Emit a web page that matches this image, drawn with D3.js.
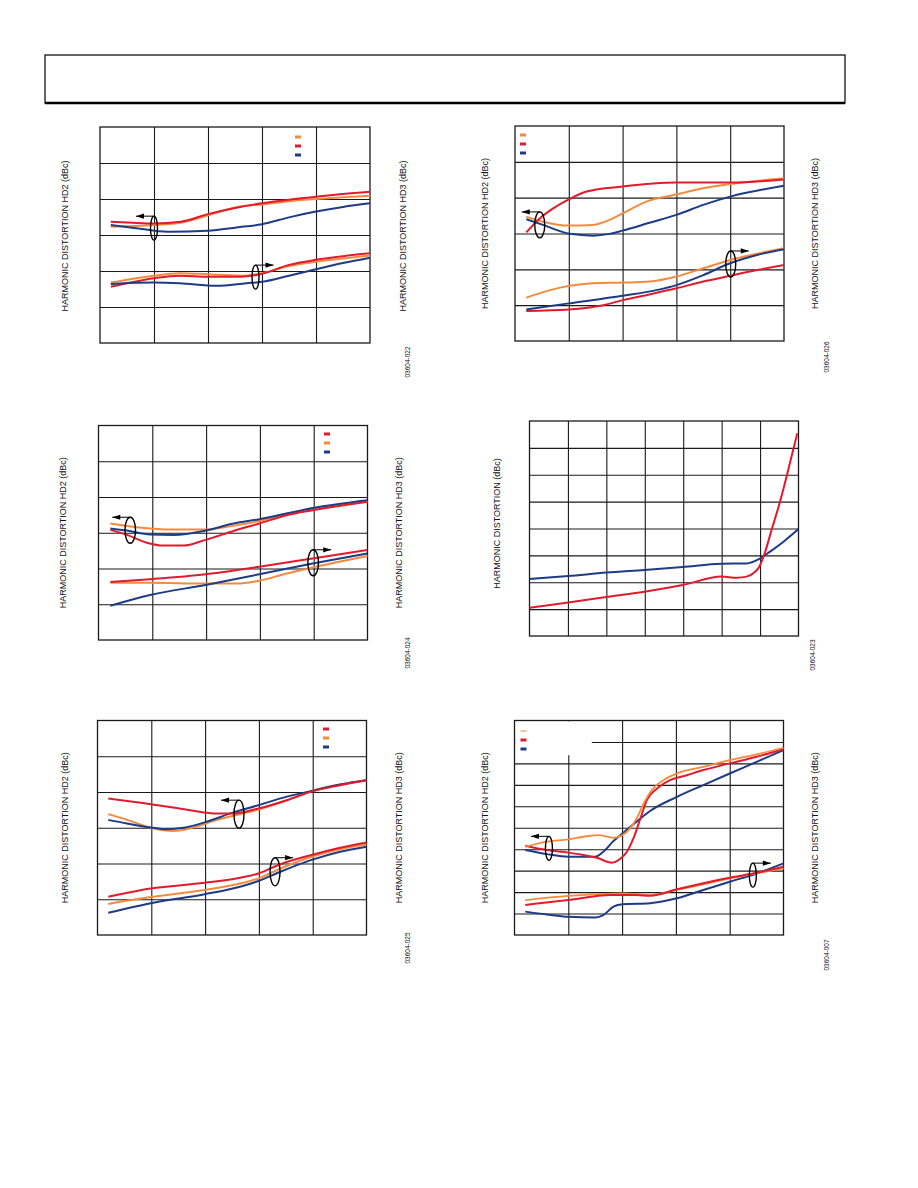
<!DOCTYPE html>
<html><head><meta charset="utf-8">
<script src="https://cdn.jsdelivr.net/npm/d3@7"></script>
<style>
html,body{margin:0;padding:0;background:#fff;}
text{font-family:"Liberation Sans",Arial,sans-serif;fill:#111;}
</style></head>
<body>
<script>
// ---------- DATA (grid units: x = columns from left, y = rows from bottom) ----------
const COLORS = {orange:"#f58a3c", red:"#e11b2d", blue:"#1d3b86"};

// Figure 1
const f1_hd2_red    = [[0.2,3.37],[0.6,3.34],[1,3.32],[1.5,3.37],[2,3.58],[2.5,3.75],[3,3.88],[3.5,3.98],[4,4.06],[4.5,4.14],[5,4.2]];
const f1_hd2_orange = [[0.2,3.23],[1,3.28],[1.5,3.34],[2,3.55],[2.6,3.79],[3,3.85],[3.5,3.94],[4,4.0],[4.5,4.05],[5,4.09]];
const f1_hd2_blue   = [[0.2,3.28],[0.67,3.19],[1.26,3.09],[2,3.12],[2.53,3.21],[3,3.30],[3.5,3.49],[4,3.65],[4.5,3.78],[5,3.88]];
const f1_hd3_orange = [[0.2,1.68],[1,1.87],[1.48,1.94],[2,1.91],[2.6,1.87],[3,1.94],[3.5,2.14],[4,2.26],[4.5,2.35],[5,2.43]];
const f1_hd3_red    = [[0.2,1.56],[1,1.80],[1.48,1.87],[2,1.84],[2.6,1.84],[3,1.92],[3.5,2.17],[4,2.31],[4.5,2.41],[5,2.49]];
const f1_hd3_blue   = [[0.2,1.64],[1,1.68],[1.48,1.66],[2.15,1.59],[2.71,1.66],[3,1.70],[3.5,1.87],[4,2.05],[4.5,2.22],[5,2.37]];
const f1_marks = [[1.0,3.19,-1],[2.88,1.83,1]];
const f1_legend = ["orange","red","blue"];

// Figure 2
const f2_hd2_red    = [[0.21,3.03],[0.46,3.42],[0.71,3.70],[1.0,3.95],[1.33,4.17],[2.0,4.31],[3.0,4.42],[4.0,4.42],[5.0,4.51]];
const f2_hd2_orange = [[0.21,3.47],[0.52,3.33],[1.02,3.22],[1.45,3.24],[1.76,3.38],[2.0,3.56],[2.44,3.89],[3.0,4.09],[3.5,4.26],[4.0,4.38],[5.0,4.54]];
const f2_hd2_blue   = [[0.21,3.40],[0.52,3.24],[1.02,2.99],[1.45,2.94],[1.76,2.99],[2.0,3.08],[2.5,3.30],[3.0,3.52],[3.5,3.80],[4.0,4.03],[5.0,4.33]];
const f2_hd3_orange = [[0.21,1.21],[0.65,1.42],[1.02,1.54],[1.45,1.61],[2.0,1.63],[2.5,1.66],[3.0,1.80],[3.5,2.03],[4.0,2.26],[5.0,2.59]];
const f2_hd3_blue   = [[0.21,0.88],[1.0,1.05],[2.0,1.26],[2.63,1.42],[3.0,1.56],[3.5,1.84],[4.0,2.17],[4.5,2.40],[5.0,2.56]];
const f2_hd3_red    = [[0.21,0.84],[1.0,0.88],[1.64,1.0],[2.0,1.14],[2.5,1.30],[3.0,1.47],[3.5,1.66],[4.0,1.82],[4.5,1.98],[5.0,2.12]];
const f2_marks = [[0.46,3.24,-1],[4.01,2.15,1]];
const f2_legend = ["orange","red","blue"];

// Figure 3
const f3_hd2_orange = [[0.22,3.26],[0.53,3.19],[0.96,3.12],[1.27,3.09],[1.99,3.09],[2.39,3.17],[2.99,3.33],[3.5,3.54],[3.98,3.67],[5.0,3.87]];
const f3_hd2_red    = [[0.22,3.08],[0.53,2.94],[0.90,2.72],[1.21,2.64],[1.58,2.64],[1.99,2.80],[2.51,3.05],[2.99,3.26],[3.5,3.49],[3.98,3.63],[5.0,3.87]];
const f3_hd2_blue   = [[0.22,3.12],[0.53,3.06],[0.96,2.95],[1.39,2.94],[1.99,3.06],[2.51,3.26],[2.99,3.38],[3.5,3.54],[3.98,3.69],[5.0,3.91]];
const f3_hd3_red    = [[0.22,1.62],[0.96,1.70],[1.99,1.84],[2.99,2.05],[3.98,2.28],[5.0,2.52]];
const f3_hd3_orange = [[0.22,1.60],[0.96,1.60],[1.99,1.58],[2.63,1.58],[2.99,1.66],[3.5,1.86],[3.98,2.03],[5.0,2.35]];
const f3_hd3_blue   = [[0.22,0.96],[0.96,1.26],[1.99,1.54],[2.99,1.84],[3.98,2.14],[5.0,2.42]];
const f3_marks = [[0.59,3.07,-1],[3.99,2.16,1]];
const f3_legend = ["red","orange","blue"];

// Figure 4
const f4_red  = [[0,1.05],[1.01,1.25],[2.0,1.45],[2.99,1.65],[3.99,1.90],[5.0,2.21],[5.39,2.17],[5.65,2.21],[5.87,2.39],[5.98,2.58],[6.09,2.95],[6.31,4.0],[6.52,5.0],[6.70,5.99],[6.87,6.98],[6.97,7.54]];
const f4_blue = [[0,2.12],[1.01,2.23],[2.0,2.36],[2.99,2.46],[3.99,2.57],[5.0,2.69],[5.65,2.70],[5.98,2.87],[6.26,3.14],[6.61,3.51],[7.0,3.98]];

// Figure 5
const f5_hd2_red    = [[0.20,3.82],[0.99,3.66],[1.72,3.49],[2.22,3.40],[2.53,3.40],[2.99,3.54],[3.52,3.77],[3.98,4.01],[4.51,4.19],[5.0,4.33]];
const f5_hd2_orange = [[0.20,3.38],[0.55,3.22],[0.99,3.0],[1.41,2.91],[1.72,2.98],[2.22,3.22],[2.65,3.38],[2.99,3.51],[3.52,3.77],[3.98,4.03],[4.51,4.21],[5.0,4.33]];
const f5_hd2_blue   = [[0.20,3.22],[0.55,3.12],[0.99,3.01],[1.29,2.96],[1.6,3.0],[1.99,3.15],[2.53,3.43],[2.99,3.63],[3.52,3.87],[3.98,4.03],[4.51,4.21],[5.0,4.33]];
const f5_hd3_red    = [[0.20,1.07],[0.99,1.30],[1.99,1.46],[2.65,1.60],[2.99,1.72],[3.40,1.98],[3.98,2.24],[4.51,2.44],[5.0,2.59]];
const f5_hd3_orange = [[0.20,0.87],[0.99,1.06],[1.99,1.26],[2.65,1.44],[2.99,1.58],[3.40,1.86],[3.98,2.19],[4.51,2.40],[5.0,2.53]];
const f5_hd3_blue   = [[0.20,0.62],[0.99,0.89],[1.99,1.14],[2.65,1.35],[2.99,1.51],[3.40,1.77],[3.98,2.10],[4.51,2.33],[5.0,2.47]];
const f5_marks = [[2.63,3.38,-1],[3.30,1.77,1]];
const f5_legend = ["red","orange","blue"];

// Figure 6
const f6_hd2_orange = [[0.20,4.11],[0.60,4.35],[1.0,4.46],[1.28,4.58],[1.56,4.66],[1.84,4.53],[2.01,4.66],[2.15,4.97],[2.27,5.43],[2.4,6.13],[2.55,6.75],[2.77,7.22],[3.02,7.53],[3.51,7.84],[4.0,8.15],[4.5,8.42],[5.0,8.73]];
const f6_hd2_red    = [[0.20,4.16],[0.60,3.96],[1.0,3.84],[1.28,3.73],[1.53,3.60],[1.81,3.37],[1.96,3.54],[2.09,3.88],[2.21,4.50],[2.34,5.43],[2.46,6.29],[2.65,6.83],[2.89,7.22],[3.2,7.45],[3.51,7.69],[4.0,8.0],[4.5,8.31],[5.0,8.66]];
const f6_hd2_blue   = [[0.20,3.96],[0.60,3.77],[1.0,3.65],[1.5,3.65],[1.65,3.88],[1.84,4.38],[2.01,4.74],[2.21,5.16],[2.52,5.78],[3.02,6.44],[3.51,6.99],[4.0,7.53],[4.5,8.07],[5.0,8.62]];
const f6_hd3_orange = [[0.20,1.63],[1.0,1.82],[2.01,1.94],[2.52,1.86],[3.02,2.10],[3.51,2.36],[4.0,2.64],[4.5,2.87],[5.0,3.11]];
const f6_hd3_red    = [[0.20,1.40],[1.0,1.63],[1.78,1.86],[2.27,1.86],[2.52,1.83],[3.02,2.13],[3.51,2.41],[4.0,2.67],[4.5,2.90],[5.0,3.18]];
const f6_hd3_blue   = [[0.20,1.09],[0.60,0.96],[1.0,0.85],[1.5,0.82],[1.65,0.93],[1.84,1.32],[2.01,1.43],[2.52,1.48],[3.02,1.71],[3.51,2.10],[4.0,2.48],[4.5,2.87],[5.0,3.34]];
const f6_marks = [[0.64,4.04,-1],[4.43,2.79,1]];
const f6_legend = ["orange","red","blue"];

const LABEL_HD2 = "HARMONIC DISTORTION HD2 (dBc)";
const LABEL_HD3 = "HARMONIC DISTORTION HD3 (dBc)";
const LABEL_HD  = "HARMONIC DISTORTION (dBc)";
const CODES = ["03604-022","03604-026","03604-024","03604-023","03604-025","03604-007"];

// ---------- DRAWING ----------
const svg = d3.select("body").append("svg").attr("width",918).attr("height",1188);

// page header box
svg.append("rect").attr("x",45).attr("y",55).attr("width",800).attr("height",48)
  .attr("fill","none").attr("stroke","#000").attr("stroke-width",1.2);
svg.append("line").attr("x1",45).attr("x2",845).attr("y1",103).attr("y2",103)
  .attr("stroke","#000").attr("stroke-width",2.4);

function drawChart(c){
  const g = svg.append("g");
  const x = d3.scaleLinear().domain([0,c.cols]).range([c.x0,c.x1]);
  const y = d3.scaleLinear().domain([0,c.rows]).range([c.y1,c.y0]);
  const w = c.x1-c.x0, h = c.y1-c.y0;
  // grid via axes
  const gx = g.append("g").attr("transform",`translate(0,${c.y1})`)
    .call(d3.axisBottom(x).tickValues(d3.range(1,c.cols)).tickSize(-h).tickFormat(""));
  const gy = g.append("g").attr("transform",`translate(${c.x0},0)`)
    .call(d3.axisLeft(y).tickValues(d3.range(1,c.rows)).tickSize(-w).tickFormat(""));
  [gx,gy].forEach(a=>{a.select(".domain").remove();
    a.selectAll(".tick line").attr("stroke","#1a1a1a").attr("stroke-width",1.1);});
  if(c.legendBox){
    const b=c.legendBox;
    g.append("rect").attr("x",c.x0+0.8).attr("y",c.y0+0.8).attr("width",b[0]).attr("height",b[1]).attr("fill","#fff");
  }
  // frame
  g.append("rect").attr("x",c.x0).attr("y",c.y0).attr("width",w).attr("height",h)
    .attr("fill","none").attr("stroke","#1a1a1a").attr("stroke-width",1.3);
  // series
  const line = d3.line().x(d=>x(d[0])).y(d=>y(d[1])).curve(d3.curveMonotoneX);
  c.series.forEach(s=>{
    g.append("path").datum(s.data).attr("d",line).attr("fill","none")
      .attr("stroke",COLORS[s.color]).attr("stroke-width",s.w||2).attr("stroke-linejoin","round");
  });
  // ellipses & arrows
  (c.marks||[]).forEach(m=>{
    const cx=x(m[0]), cy=y(m[1]);
    g.append("ellipse").attr("cx",cx).attr("cy",cy).attr("rx",c.erx).attr("ry",c.ery)
      .attr("fill","none").attr("stroke","#000").attr("stroke-width",1.4);
    const ty = cy-c.ery, dir=m[2], L=18, hl=8;
    const tip = cx+dir*L;
    g.append("line").attr("x1",cx).attr("x2",tip).attr("y1",ty).attr("y2",ty)
      .attr("stroke","#000").attr("stroke-width",1);
    g.append("path").attr("d",`M${tip},${ty}L${tip-dir*hl},${ty-2.6}L${tip-dir*hl},${ty+2.6}Z`).attr("fill","#000");
  });
  // legend swatches
  if(c.legend){
    c.legend.forEach((col,i)=>{
      g.append("rect").attr("x",c.lx).attr("y",c.ly+i*c.lstep-(c.lthin&&i==0?0.5:1.5))
        .attr("width",c.lw||6).attr("height",(c.lthin&&i==0)?1:3).attr("fill",COLORS[col]);
    });
  }
  // axis titles
  const cyL = (c.y0+c.y1)/2 + (c.labelShift||0);
  const lab=(xx,t)=>g.append("text").attr("transform",`translate(${xx},${cyL}) rotate(-90)`)
    .attr("text-anchor","middle").attr("dominant-baseline","central").attr("font-size",9).text(t);
  lab(c.lLabelX,c.lLabel);
  if(c.rLabel) lab(c.rLabelX,c.rLabel);
  g.append("text").attr("transform",`translate(${c.codeX},${c.codeY}) rotate(-90)`)
    .attr("text-anchor","middle").attr("dominant-baseline","central").attr("font-size",6.5).text(c.code);
}

drawChart({x0:100,y0:127,x1:370,y1:343,cols:5,rows:6,
  series:[{data:f1_hd2_orange,color:"orange"},{data:f1_hd2_red,color:"red"},{data:f1_hd2_blue,color:"blue"},
          {data:f1_hd3_orange,color:"orange"},{data:f1_hd3_red,color:"red"},{data:f1_hd3_blue,color:"blue"}],
  marks:f1_marks,erx:3.5,ery:12,legend:f1_legend,lx:295,ly:137,lstep:9,
  lLabel:LABEL_HD2,lLabelX:65,rLabel:LABEL_HD3,rLabelX:403,code:CODES[0],codeX:407,codeY:362,labelShift:1});

drawChart({x0:515,y0:126,x1:784,y1:341,cols:5,rows:6,
  series:[{data:f2_hd2_orange,color:"orange"},{data:f2_hd2_red,color:"red"},{data:f2_hd2_blue,color:"blue"},
          {data:f2_hd3_orange,color:"orange"},{data:f2_hd3_red,color:"red"},{data:f2_hd3_blue,color:"blue"}],
  marks:f2_marks,erx:5,ery:13,legend:f2_legend,lx:520,ly:135,lstep:9,
  lLabel:LABEL_HD2,lLabelX:485,rLabel:LABEL_HD3,rLabelX:815,code:CODES[1],codeX:826,codeY:357,labelShift:0});

drawChart({x0:98.5,y0:425.5,x1:367.5,y1:640,cols:5,rows:6,
  series:[{data:f3_hd2_orange,color:"orange"},{data:f3_hd2_blue,color:"blue"},{data:f3_hd2_red,color:"red"},
          {data:f3_hd3_orange,color:"orange"},{data:f3_hd3_blue,color:"blue"},{data:f3_hd3_red,color:"red"}],
  marks:f3_marks,erx:5.3,ery:13,legend:f3_legend,lx:324,ly:434,lstep:9,
  lLabel:LABEL_HD2,lLabelX:63,rLabel:LABEL_HD3,rLabelX:399,code:CODES[2],codeX:407,codeY:653,labelShift:0});

drawChart({x0:529.5,y0:421,x1:798.5,y1:636,cols:7,rows:8,
  series:[{data:f4_blue,color:"blue"},{data:f4_red,color:"red"}],
  lLabel:LABEL_HD,lLabelX:497,code:CODES[3],codeX:812,codeY:655,labelShift:-5});

drawChart({x0:97.5,y0:720.5,x1:366.5,y1:935,cols:5,rows:6,
  series:[{data:f5_hd2_orange,color:"orange"},{data:f5_hd2_blue,color:"blue"},{data:f5_hd2_red,color:"red"},
          {data:f5_hd3_orange,color:"orange"},{data:f5_hd3_blue,color:"blue"},{data:f5_hd3_red,color:"red"}],
  marks:f5_marks,erx:5,ery:14,legend:f5_legend,lx:323,ly:729,lstep:9,
  lLabel:LABEL_HD2,lLabelX:65,rLabel:LABEL_HD3,rLabelX:399,code:CODES[4],codeX:407,codeY:948,labelShift:0});

drawChart({x0:514.5,y0:720.5,x1:783.5,y1:935,cols:5,rows:10,
  series:[{data:f6_hd2_blue,color:"blue"},{data:f6_hd2_red,color:"red"},{data:f6_hd2_orange,color:"orange",w:1.8},
          {data:f6_hd3_blue,color:"blue"},{data:f6_hd3_orange,color:"orange",w:1.8},{data:f6_hd3_red,color:"red"}],
  marks:f6_marks,erx:3.5,ery:12,legend:f6_legend,lx:520.5,ly:731,lstep:9,lthin:true,legendBox:[76.5,34],
  lLabel:LABEL_HD2,lLabelX:485,rLabel:LABEL_HD3,rLabelX:815,code:CODES[5],codeX:826,codeY:955,labelShift:0});
</script>
</body></html>
